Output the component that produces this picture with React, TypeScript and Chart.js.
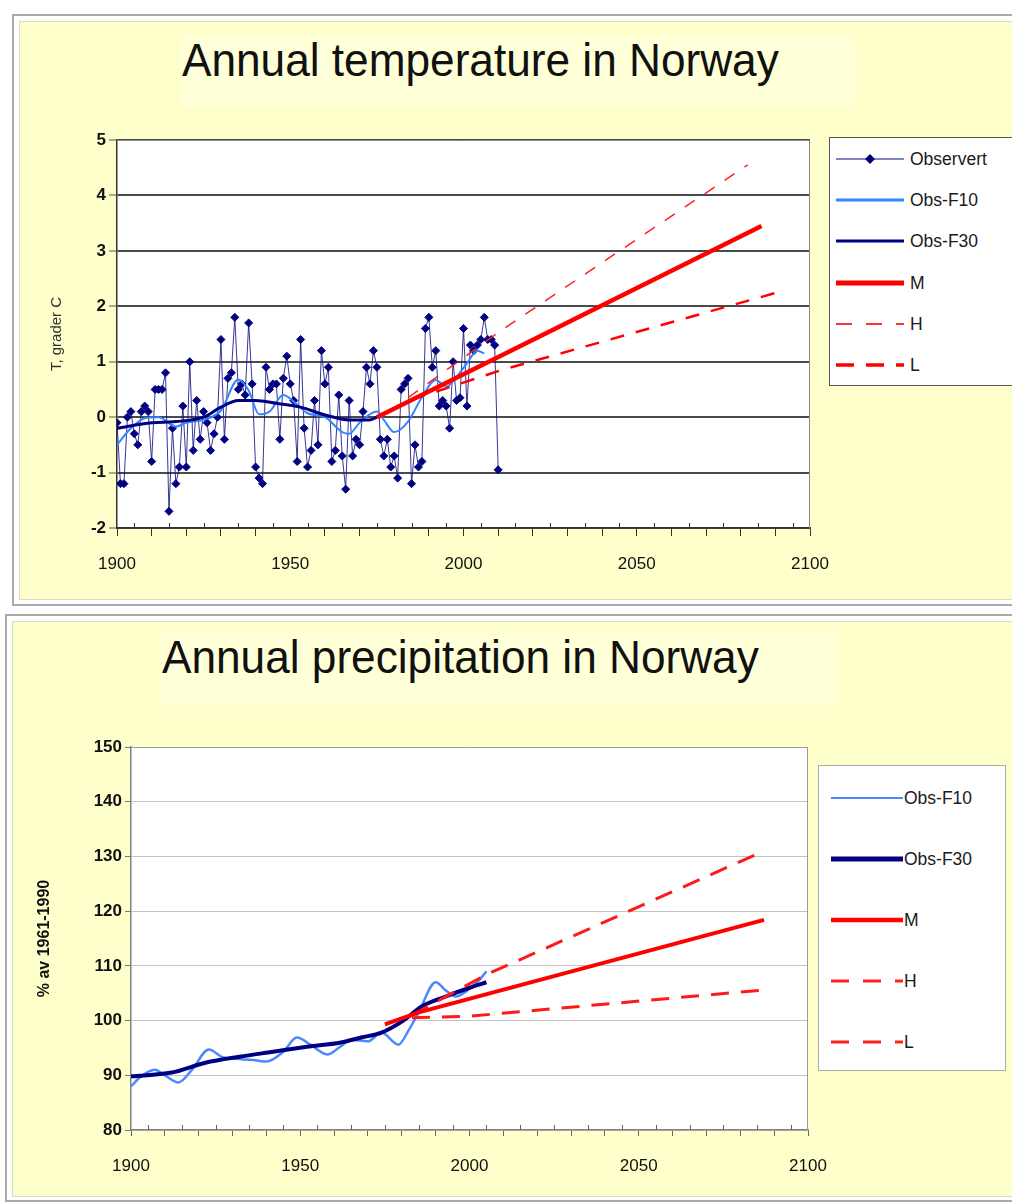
import React, { useEffect, useRef } from 'react';
import { Chart, registerables } from 'chart.js';

Chart.register(...registerables);

const FONT = '"Liberation Sans", Arial, Helvetica, sans-serif';

// ---------------- Temperature data ----------------
const TEMP_OBS_FIRST_YEAR = 1900;
const tempObserved = [
  -0.1, -1.2, -1.2, 0.0, 0.1, -0.3, -0.5, 0.1, 0.2, 0.1,
  -0.8, 0.5, 0.5, 0.5, 0.8, -1.7, -0.2, -1.2, -0.9, 0.2,
  -0.9, 1.0, -0.6, 0.3, -0.4, 0.1, -0.1, -0.6, -0.3, 0.0,
  1.4, -0.4, 0.7, 0.8, 1.8, 0.5, 0.6, 0.4, 1.7, 0.6,
  -0.9, -1.1, -1.2, 0.9, 0.5, 0.6, 0.6, -0.4, 0.7, 1.1,
  0.6, 0.3, -0.8, 1.4, -0.2, -0.9, -0.6, 0.3, -0.5, 1.2,
  0.6, 0.9, -0.8, -0.6, 0.4, -0.7, -1.3, 0.3, -0.7, -0.4,
  -0.5, 0.1, 0.9, 0.6, 1.2, 0.9, -0.4, -0.7, -0.4, -0.9,
  -0.7, -1.1, 0.5, 0.6, 0.7, -1.2, -0.5, -0.9, -0.8, 1.6,
  1.8, 0.9, 1.2, 0.2, 0.3, 0.2, -0.2, 1.0, 0.3, 0.35,
  1.6, 0.2, 1.3, 1.2, 1.3, 1.4, 1.8, 1.4, 1.4, 1.3,
  -0.95,
];
const tempF10Years = [1900, 1904, 1908, 1912, 1917, 1920, 1925, 1930, 1935, 1938, 1941, 1944, 1948, 1951, 1955, 1960, 1965, 1967, 1970, 1975, 1977, 1980, 1984, 1988, 1992, 1995, 1998, 2001, 2004, 2006];
const tempF10Values = [-0.5, -0.2, -0.02, 0.0, -0.17, -0.1, -0.05, 0.12, 0.68, 0.48, 0.05, 0.1, 0.4, 0.28, 0.07, 0.0, -0.27, -0.3, -0.1, 0.1, -0.05, -0.27, -0.08, 0.36, 0.67, 0.55, 0.73, 0.97, 1.2, 1.15];
const tempF30Years = [1900, 1910, 1917, 1925, 1930, 1935, 1940, 1946, 1953, 1960, 1967, 1973, 1975];
const tempF30Values = [-0.2, -0.1, -0.08, 0.0, 0.18, 0.3, 0.3, 0.25, 0.18, 0.04, -0.05, -0.05, 0.0];
const tempMYears = [1975, 2016, 2086];
const tempMValues = [0.0, 1.27, 3.45];
const tempHYears = [1984, 2011, 2082];
const tempHValues = [0.35, 1.57, 4.55];
const tempLYears = [1985, 1995, 2011, 2090];
const tempLValues = [0.32, 0.52, 0.85, 2.24];
const tempYTicks = [-2, -1, 0, 1, 2, 3, 4, 5];

// ---------------- Precipitation data ----------------
const precF10Years = [1900, 1903, 1907, 1910, 1914, 1918, 1923, 1927, 1931, 1936, 1940, 1945, 1949, 1953, 1958, 1962, 1965, 1970, 1974, 1979, 1982, 1985, 1990, 1993, 1996, 2000, 2003, 2005];
const precF10Values = [88, 89.8, 91, 90, 88.7, 91, 94.7, 93.3, 93, 92.8, 92.5, 94.3, 96.9, 95.6, 93.8, 95.3, 96.5, 96.2, 97.8, 95.6, 98.2, 101.5, 107, 105.5, 104.4, 105.8, 107.5, 109];
const precF30Years = [1900, 1912, 1922, 1932, 1942, 1952, 1962, 1968, 1974, 1980, 1986, 1993, 2000, 2005];
const precF30Values = [89.8, 90.5, 92.3, 93.4, 94.3, 95.2, 96, 96.9, 97.8, 99.8, 102.6, 104.4, 106, 107];
const precMYears = [1975, 1985, 2087];
const precMValues = [99.3, 101.5, 118.4];
const precHYears = [1983, 2005, 2087];
const precHValues = [101, 108.4, 131];
const precLYears = [1983, 2000, 2087];
const precLValues = [100.5, 100.8, 105.6];

const X_MIN = 1900;
const X_MAX = 2100;
const X_LABEL_EVERY = 50;

const xy = (xs: number[], ys: number[]) => xs.map((x, i) => ({ x, y: ys[i] }));

const framePlugin = {
  id: 'frame',
  beforeDraw(chart: any) {
    const { ctx, chartArea } = chart;
    const { left, top, right, bottom } = chartArea;
    ctx.save();
    ctx.fillStyle = '#ffffff';
    ctx.fillRect(left, top, right - left, bottom - top);
    ctx.restore();
  },
  beforeDatasetsDraw(chart: any, _a: any, opts: any) {
    const { ctx, chartArea } = chart;
    const { left, top, right, bottom } = chartArea;
    ctx.save();
    ctx.strokeStyle = opts.borderColor || '#888';
    ctx.lineWidth = 1;
    ctx.beginPath();
    ctx.moveTo(left, top + 0.5);
    ctx.lineTo(right - 0.5, top + 0.5);
    ctx.lineTo(right - 0.5, bottom);
    ctx.stroke();
    const xs = chart.scales.x;
    ctx.strokeStyle = opts.tickColor || '#444';
    ctx.beginPath();
    for (let v = X_MIN + 5; v < X_MAX; v += 10) {
      const px = Math.round(xs.getPixelForValue(v)) + 0.5;
      ctx.moveTo(px, bottom);
      ctx.lineTo(px, bottom - 5);
    }
    ctx.stroke();
    ctx.restore();
  },
};

const fixX = (h: number) => (s: any) => {
  s.height = h;
  s.paddingLeft = 0;
  s.paddingRight = 0;
};
const fixY = (w: number) => (s: any) => {
  s.width = w;
  s.paddingTop = 0;
  s.paddingBottom = 0;
};

function tempConfig(): any {
  return {
    type: 'line',
    data: {
      datasets: [
        { label: 'M', data: xy(tempMYears, tempMValues), borderColor: '#ff0000', borderWidth: 4.5, pointRadius: 0, order: 0 },
        { label: 'H', data: xy(tempHYears, tempHValues), borderColor: '#ff2020', borderWidth: 1.5, borderDash: [12, 12], pointRadius: 0, order: 1 },
        { label: 'L', data: xy(tempLYears, tempLValues), borderColor: '#ff0000', borderWidth: 2.5, borderDash: [14, 12], pointRadius: 0, order: 2 },
        { label: 'Obs-F30', data: xy(tempF30Years, tempF30Values), borderColor: '#000080', borderWidth: 3, pointRadius: 0, cubicInterpolationMode: 'monotone', order: 3 },
        { label: 'Obs-F10', data: xy(tempF10Years, tempF10Values), borderColor: '#3385ff', borderWidth: 2, pointRadius: 0, cubicInterpolationMode: 'monotone', order: 4 },
        {
          label: 'Observert',
          data: tempObserved.map((v, i) => ({ x: TEMP_OBS_FIRST_YEAR + i, y: v })),
          borderColor: 'rgba(20,20,130,0.85)', borderWidth: 1,
          pointStyle: 'rectRot', pointRadius: 4, pointBackgroundColor: '#000080', pointBorderColor: '#000080', pointBorderWidth: 1,
          order: 5,
        },
      ],
    },
    options: {
      animation: false,
      responsive: false,
      layout: { padding: { top: 22, right: 20, left: 0, bottom: 0 } },
      plugins: { legend: { display: false }, tooltip: { enabled: false }, frame: { borderColor: '#8a8a8a', tickColor: '#333' } },
      scales: {
        x: {
          type: 'linear', min: X_MIN, max: X_MAX,
          afterFit: fixX(72),
          ticks: {
            stepSize: 10, autoSkip: false, maxRotation: 0, padding: 18, color: '#111',
            font: { family: FONT, size: 17 },
            callback: (v: any) => (Number(v) % X_LABEL_EVERY === 0 ? String(v) : ''),
          },
          grid: { drawOnChartArea: false, drawTicks: true, tickLength: 8, color: '#333', tickWidth: 1 },
          border: { display: true, color: '#333', width: 1.5 },
        },
        y: {
          type: 'linear', min: -2, max: 5,
          afterFit: fixY(97),
          afterBuildTicks: (s: any) => { s.ticks = tempYTicks.map((v) => ({ value: v })); },
          ticks: { padding: 3, color: '#111', font: { family: FONT, size: 17, weight: 'bold' } },
          grid: { color: '#4a4a4a', lineWidth: 2, tickLength: 8, tickColor: '#555', tickWidth: 1 },
          border: { display: true, color: '#333', width: 1.5 },
          title: { display: true, text: 'T, grader C', color: '#333', font: { family: FONT, size: 15 }, padding: { top: 28, bottom: 0 } },
        },
      },
    },
    plugins: [framePlugin],
  };
}

function precConfig(): any {
  return {
    type: 'line',
    data: {
      datasets: [
        { label: 'M', data: xy(precMYears, precMValues), borderColor: '#ff0000', borderWidth: 4, pointRadius: 0, order: 0 },
        { label: 'H', data: xy(precHYears, precHValues), borderColor: '#ff1a1a', borderWidth: 3, borderDash: [18, 12], pointRadius: 0, order: 1 },
        { label: 'L', data: xy(precLYears, precLValues), borderColor: '#ff1a1a', borderWidth: 3, borderDash: [18, 12], pointRadius: 0, order: 2 },
        { label: 'Obs-F30', data: xy(precF30Years, precF30Values), borderColor: '#000080', borderWidth: 4, pointRadius: 0, cubicInterpolationMode: 'monotone', order: 3 },
        { label: 'Obs-F10', data: xy(precF10Years, precF10Values), borderColor: '#4d88ff', borderWidth: 2.5, pointRadius: 0, cubicInterpolationMode: 'monotone', order: 4 },
      ],
    },
    options: {
      animation: false,
      responsive: false,
      layout: { padding: { top: 27, right: 22, left: 0, bottom: 0 } },
      plugins: { legend: { display: false }, tooltip: { enabled: false }, frame: { borderColor: '#9a9a9a', tickColor: '#666' } },
      scales: {
        x: {
          type: 'linear', min: X_MIN, max: X_MAX,
          afterFit: fixX(68),
          ticks: {
            stepSize: 10, autoSkip: false, maxRotation: 0, padding: 20, color: '#111',
            font: { family: FONT, size: 17 },
            callback: (v: any) => (Number(v) % X_LABEL_EVERY === 0 ? String(v) : ''),
          },
          grid: { drawOnChartArea: false, drawTicks: true, tickLength: 6, color: '#666', tickWidth: 1 },
          border: { display: true, color: '#808080', width: 1.5 },
        },
        y: {
          type: 'linear', min: 80, max: 150,
          afterFit: fixY(111),
          ticks: { stepSize: 10, padding: 3, color: '#111', font: { family: FONT, size: 17, weight: 'bold' } },
          grid: { color: '#c4c4c4', lineWidth: 1, tickLength: 6, tickColor: '#777', tickWidth: 1 },
          border: { display: true, color: '#808080', width: 1.5 },
          title: { display: true, text: '% av 1961-1990', color: '#111', font: { family: FONT, size: 16, weight: 'bold' }, padding: { top: 15, bottom: 0 } },
        },
      },
    },
    plugins: [framePlugin],
  };
}

function ChartCanvas({ make, left, top, width, height }: { make: () => any; left: number; top: number; width: number; height: number }) {
  const ref = useRef<HTMLCanvasElement>(null);
  useEffect(() => {
    const chart = new Chart(ref.current as HTMLCanvasElement, make());
    return () => chart.destroy();
  }, []);
  return (
    <canvas
      ref={ref}
      width={width}
      height={height}
      style={{ position: 'absolute', left, top, width, height, display: 'block' }}
    />
  );
}

type LegendEntry = { label: string; color: string; width: number; dash?: string; marker?: boolean };

function Legend({ entries, left, top, width, height, firstY, gap, lineX1, lineX2, textX, border }: any) {
  return (
    <div style={{ position: 'absolute', left, top, width, height, background: '#fff', border: `1.5px solid ${border}`, boxSizing: 'border-box' }}>
      {(entries as LegendEntry[]).map((e, i) => {
        const cy = firstY + i * gap;
        const w = lineX2 - lineX1;
        return (
          <React.Fragment key={e.label}>
            <svg style={{ position: 'absolute', left: lineX1, top: cy - 8 }} width={w} height={16}>
              <line x1={0} y1={8} x2={w} y2={8} stroke={e.color} strokeWidth={e.width} strokeDasharray={e.dash} />
              {e.marker ? (
                <polygon points={`${w / 2},3 ${w / 2 + 5},8 ${w / 2},13 ${w / 2 - 5},8`} fill="#000080" />
              ) : null}
            </svg>
            <div style={{ position: 'absolute', left: textX, top: cy - 11, fontFamily: FONT, fontSize: 17.5, lineHeight: '22px', color: '#1a1a1a', whiteSpace: 'nowrap' }}>
              {e.label}
            </div>
          </React.Fragment>
        );
      })}
    </div>
  );
}

const tempLegend: LegendEntry[] = [
  { label: 'Observert', color: '#5a5aa8', width: 1.5, marker: true },
  { label: 'Obs-F10', color: '#3385ff', width: 3 },
  { label: 'Obs-F30', color: '#000080', width: 3 },
  { label: 'M', color: '#ff0000', width: 5 },
  { label: 'H', color: '#ff3030', width: 2, dash: '16 14' },
  { label: 'L', color: '#ff0000', width: 3.5, dash: '18 12' },
];

const precLegend: LegendEntry[] = [
  { label: 'Obs-F10', color: '#4d88ff', width: 2 },
  { label: 'Obs-F30', color: '#000080', width: 5 },
  { label: 'M', color: '#ff0000', width: 4.5 },
  { label: 'H', color: '#ff2020', width: 3, dash: '18 14' },
  { label: 'L', color: '#ff2020', width: 3, dash: '18 14' },
];

const titleStyle: React.CSSProperties = {
  position: 'absolute',
  fontFamily: FONT,
  fontSize: 47,
  lineHeight: '54px',
  color: '#111',
  whiteSpace: 'nowrap',
  transform: 'scaleX(0.94)',
  transformOrigin: 'left center',
};

export default function App() {
  return (
    <div style={{ position: 'absolute', left: 0, top: 0, width: 1012, height: 1202, overflow: 'hidden', background: '#fff' }}>
      {/* Top panel */}
      <div style={{ position: 'absolute', left: 12, top: 14, width: 1020, height: 592, border: '2px solid #a9a9a9', boxSizing: 'border-box', background: '#fff' }}>
        <div style={{ position: 'absolute', left: 5, top: 5, right: 0, bottom: 4, background: '#ffffcc', border: '1px solid #dcdcc4' }} />
      </div>
      <div style={{ position: 'absolute', left: 180, top: 35, width: 675, height: 73, background: '#ffffd8' }} />
      <div style={{ ...titleStyle, left: 182, top: 33 }}>Annual temperature in Norway</div>
      <ChartCanvas make={tempConfig} left={20} top={118} width={810} height={482} />
      <Legend entries={tempLegend} left={829} top={137} width={200} height={249} firstY={21} gap={41.2} lineX1={6} lineX2={74} textX={80} border="#555" />

      {/* Bottom panel */}
      <div style={{ position: 'absolute', left: 5, top: 614, width: 1020, height: 588, border: '2px solid #a9a9a9', boxSizing: 'border-box', background: '#fff' }}>
        <div style={{ position: 'absolute', left: 5, top: 5, right: 0, bottom: 3, background: '#ffffcc', border: '1px solid #dcdcc4' }} />
      </div>
      <div style={{ position: 'absolute', left: 160, top: 632, width: 678, height: 73, background: '#ffffd8' }} />
      <div style={{ ...titleStyle, left: 162, top: 630 }}>Annual precipitation in Norway</div>
      <ChartCanvas make={precConfig} left={20} top={720} width={810} height={478} />
      <Legend entries={precLegend} left={818} top={765} width={188} height={306} firstY={32} gap={61} lineX1={12} lineX2={84} textX={85} border="#aaa" />
    </div>
  );
}
